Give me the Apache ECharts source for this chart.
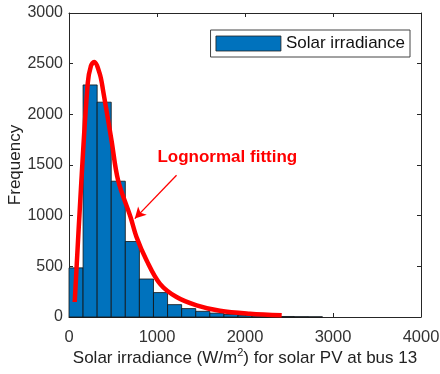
<!DOCTYPE html>
<html>
<head>
<meta charset="utf-8">
<script src="https://cdn.jsdelivr.net/npm/echarts@6/dist/echarts.min.js"></script>
<style>
  html, body { margin: 0; padding: 0; background: #fff; }
  #chart { width: 440px; height: 374px; }
</style>
</head>
<body>
<div id="chart"></div>
<script>
// Histogram bins (W/m^2) and observed counts
const binEdges = [0, 160, 320, 480, 640, 800, 960, 1120, 1280, 1440, 1600, 1760, 1920, 2080, 2240, 2400, 2560, 2720, 2880];
const counts = [485, 2290, 2120, 1340, 745, 375, 241, 122, 83, 56, 38, 25, 17, 11, 7, 5, 3, 2];

// Fitted lognormal density, scaled to frequency
const fitX = [65, 141, 213, 250, 285, 349, 387, 483, 558, 699, 767, 881, 1032, 1222, 1450, 1715, 2056, 2417];
const fitY = [148, 1349, 2307, 2480, 2517, 2402, 2237, 1744, 1349, 987, 790, 560, 330, 197, 115, 61, 32, 17];

// Axis ticks
const xTicks = [0, 1000, 2000, 3000, 4000];
const yTicks = [0, 500, 1000, 1500, 2000, 2500, 3000];

const FONT = 'Liberation Sans, Arial, sans-serif';
const AXIS = '#262626';

const histData = counts.map((c, i) => [binEdges[i], binEdges[i + 1], c]);
const fitData = fitX.map((x, i) => [x, fitY[i]]);

const chart = echarts.init(document.getElementById('chart'), null, { renderer: 'canvas' });

const plain = v => String(v);

const baseX = {
  type: 'value',
  min: xTicks[0],
  max: xTicks[xTicks.length - 1],
  interval: xTicks[1] - xTicks[0],
  splitLine: { show: false },
  axisLine: { show: true, onZero: false, lineStyle: { color: AXIS, width: 1 } },
  axisTick: { show: true, inside: true, length: 4, lineStyle: { color: AXIS } }
};
const baseY = {
  type: 'value',
  min: yTicks[0],
  max: yTicks[yTicks.length - 1],
  interval: yTicks[1] - yTicks[0],
  splitLine: { show: false },
  axisLine: { show: true, onZero: false, lineStyle: { color: AXIS, width: 1 } },
  axisTick: { show: true, inside: true, length: 4, lineStyle: { color: AXIS } }
};

chart.setOption({
  animation: false,
  backgroundColor: '#fff',
  textStyle: { fontFamily: FONT },
  grid: { left: 69, right: 19, top: 13, bottom: 57, containLabel: false, outerBoundsMode: 'none' },
  legend: {
    data: [{ name: 'Solar irradiance', icon: 'rect' }],
    right: 30,
    top: 30,
    itemWidth: 65,
    itemHeight: 15,
    itemGap: 4,
    padding: [5, 5, 5, 5],
    borderColor: '#444',
    borderWidth: 1,
    backgroundColor: '#fff',
    itemStyle: { borderColor: '#222', borderWidth: 0.8 },
    textStyle: { fontFamily: FONT, fontSize: 17, color: '#111' }
  },
  xAxis: [
    Object.assign({}, baseX, {
      position: 'bottom',
      name: 'Solar irradiance (W/m{sup|2}) for solar PV at bus 13',
      nameLocation: 'middle',
      nameGap: 30,
      nameMoveOverlap: false,
      nameTextStyle: {
        fontFamily: FONT, fontSize: 17, color: '#222', lineHeight: 22,
        rich: { sup: { fontFamily: FONT, fontSize: 11, color: '#222', verticalAlign: 'top', lineHeight: 22 } }
      },
      axisLabel: { show: true, margin: 12, fontFamily: FONT, fontSize: 16.5, color: '#333', formatter: plain }
    }),
    Object.assign({}, baseX, { position: 'top', axisLabel: { show: false } })
  ],
  yAxis: [
    Object.assign({}, baseY, {
      position: 'left',
      name: 'Frequency',
      nameLocation: 'middle',
      nameGap: 45,
      nameMoveOverlap: false,
      nameTextStyle: { fontFamily: FONT, fontSize: 17, color: '#222' },
      axisLabel: { show: true, margin: 6, fontFamily: FONT, fontSize: 16, color: '#333', formatter: plain }
    }),
    Object.assign({}, baseY, { position: 'right', axisLabel: { show: false } })
  ],
  series: [
    {
      name: 'Solar irradiance',
      type: 'custom',
      xAxisIndex: 0,
      yAxisIndex: 0,
      itemStyle: { color: '#0072BD', borderColor: '#111', borderWidth: 0.8 },
      encode: { x: [0, 1], y: 2 },
      renderItem: function (params, api) {
        const p0 = api.coord([api.value(0), 0]);
        const p1 = api.coord([api.value(1), api.value(2)]);
        return {
          type: 'rect',
          shape: { x: p0[0], y: p1[1], width: p1[0] - p0[0], height: p0[1] - p1[1] },
          style: { fill: '#0072BD', stroke: '#111', lineWidth: 0.8 }
        };
      },
      data: histData,
      z: 2
    },
    {
      name: 'Lognormal fitting',
      type: 'line',
      xAxisIndex: 0,
      yAxisIndex: 0,
      data: fitData,
      smooth: 0.35,
      symbol: 'none',
      lineStyle: { color: '#FF0000', width: 4.5 },
      z: 3,
      markLine: {
        silent: true,
        symbol: ['none', 'arrow'],
        symbolSize: [9, 11],
        lineStyle: { color: '#FF0000', width: 1.3, type: 'solid' },
        label: { show: false },
        data: [[{ coord: [1222, 1399] }, { coord: [748, 971] }]]
      },
      markPoint: {
        silent: true,
        symbol: 'circle',
        symbolSize: 0,
        data: [{ coord: [1005, 1575] }],
        label: {
          show: true,
          position: 'right',
          distance: 0,
          formatter: 'Lognormal fitting',
          fontFamily: FONT,
          fontSize: 17,
          fontWeight: 'bold',
          color: '#FF0000'
        }
      }
    }
  ]
});
</script>
</body>
</html>
